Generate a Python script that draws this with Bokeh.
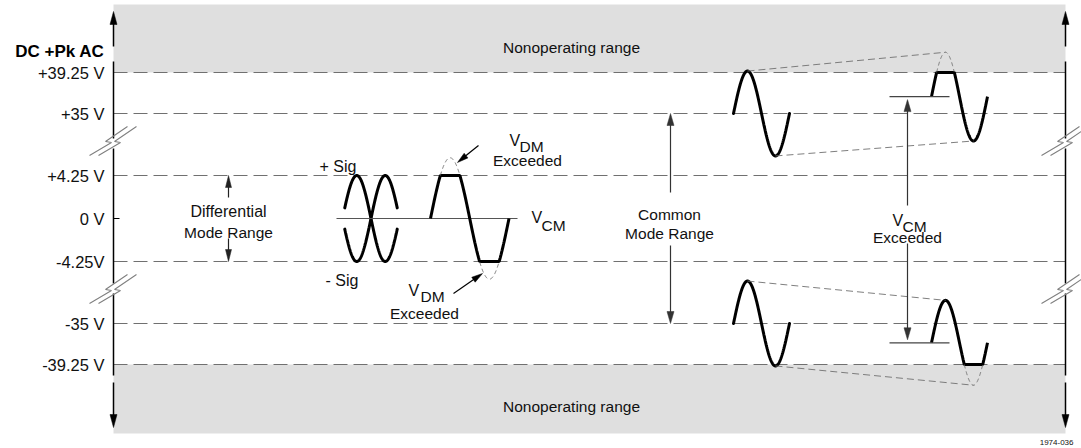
import numpy as np
from bokeh.plotting import figure
from bokeh.models import Range1d
from bokeh.core.properties import value
from bokeh.embed import file_html
from bokeh.resources import INLINE

# ---------------- data ----------------
level_volts = [39.25, 35.0, 4.25, 0.0, -4.25, -35.0, -39.25]
level_labels = ["+39.25 V", "+35 V", "+4.25 V", "0 V", "-4.25V", "-35 V", "-39.25 V"]
dashed_levels = [39.25, 35.0, 4.25, -4.25, -35.0, -39.25]
nonop_limit = 39.25          # beyond this: nonoperating range
dm_limit = 4.25              # differential mode limit

# differential-mode signals: +Sig / -Sig and an over-range signal
sig_dc = [0.0, 0.0]
sig_amp = [4.25, -4.25]      # volts (sign = polarity)
over_dm_amp = 6.0            # volts, exceeds 4.25 V

# common-mode signals: DC level (V), AC amplitude (V)
cm_ok_dc = [35.0, -35.0]
cm_ok_amp = [4.4, 4.4]
cm_over_dc = [36.75, -37.0]
cm_over_amp = [4.6, 4.4]

FONT = value("Liberation Sans")

# ---------------- display scale (with axis break) ----------------
def vpos(v):
    a = abs(v)
    if a <= 4.25:
        d = 43.0 * a / 4.25
    else:
        d = 105.0 + 41.0 * (a - 35.0) / 4.25
    return d if v >= 0 else -d

def slope(v):
    return 43.0 / 4.25 if abs(v) <= 4.25 else 41.0 / 4.25

W, H = 1081, 448
Y0 = 218                      # screen row of 0 V
def sy(s):                    # layout helper: screen row -> plot y
    return Y0 - s

p = figure(width=W, height=H, x_range=Range1d(0, W),
           y_range=Range1d(Y0 - H, Y0),
           x_axis_type=None, y_axis_type=None,
           output_backend="svg", toolbar_location=None, min_border=0)
p.grid.visible = False
p.outline_line_color = None
p.background_fill_color = "white"
p.border_fill_color = "white"

AXL, AXR = 113, 1065

# nonoperating ranges
p.quad(left=[AXL, AXL], right=[AXR, AXR],
       bottom=[vpos(nonop_limit), sy(433)], top=[sy(4), vpos(-nonop_limit)],
       fill_color="#dfdfdf", line_color=None)

# dashed level lines
for lv in dashed_levels:
    p.line([AXL, AXR], [vpos(lv), vpos(lv)], line_color="#707070",
           line_width=1.2, line_dash="14 6")

# 0 V tick
p.line([AXL, AXL + 6], [0, 0], line_color="black", line_width=1)

def arrow(x0, y0, x1, y1, color="black", lw=1.5, hl=13, hw=7):
    dx, dy = x1 - x0, y1 - y0
    L = np.hypot(dx, dy)
    ux, uy = dx / L, dy / L
    bx, by = x1 - ux * hl, y1 - uy * hl
    p.line([x0, bx + ux * 2], [y0, by + uy * 2], line_color=color, line_width=lw)
    nx, ny = -uy, ux
    p.patch([x1, bx + nx * hw / 2, bx - nx * hw / 2],
            [y1, by + ny * hw / 2, by - ny * hw / 2],
            fill_color=color, line_color=color, line_width=0.5)

# vertical axes with breaks and arrows
breaks = [140, 288]
for ax in (AXL, AXR):
    segs = [(61, breaks[0] - 2), (breaks[0] + 8, breaks[1] - 5), (breaks[1] + 5, 375)]
    for a, b in segs:
        p.line([ax, ax], [sy(a), sy(b)], line_color="black", line_width=1.5)
    arrow(ax, sy(46), ax, sy(11))
    arrow(ax, sy(382), ax, sy(427))
    zig = [(-24, 15), (-2, 2), (-8, 1), (14, -14)]
    for cy in breaks:
        for off in (0, 9):
            p.line([ax + dx + off for dx, dy in zig], [sy(cy + dy) for dx, dy in zig],
                   line_color="#808080", line_width=1.1)

# ---------- waveforms ----------
def draw_wave(x_start, period, dc, amp, clip=None, th0=0.0, th1=2 * np.pi):
    th = np.linspace(th0, th1, 240)
    xs = x_start + th / (2 * np.pi) * period
    ys = vpos(dc) + slope(dc) * amp * np.sin(th)
    if clip is None:
        p.line(xs, ys, line_color="black", line_width=3, line_cap="round")
        return
    hi, lo = vpos(clip), vpos(-clip)
    yc = np.clip(ys, lo, hi)
    p.line(xs, yc, line_color="black", line_width=3)
    ex = np.where((ys > hi) | (ys < lo), ys, np.nan)
    p.line(xs, ex, line_color="#707070", line_width=0.9, line_dash="4 3")

# +Sig / -Sig
for dc, amp in zip(sig_dc, sig_amp):
    draw_wave(342, 57, dc, amp, th0=0.25, th1=2 * np.pi - 0.25)
# VCM reference line
p.line([336, 517], [vpos(0), vpos(0)], line_color="#555555", line_width=1.2)
# over-range differential signal
draw_wave(430, 78.5, 0.0, over_dm_amp, clip=dm_limit)

# common-mode signals
cm_left_x, cm_right_x, cm_period = 733, 931, 56
for dc_ok, a_ok, dc_ov, a_ov in zip(cm_ok_dc, cm_ok_amp, cm_over_dc, cm_over_amp):
    draw_wave(cm_left_x, cm_period, dc_ok, a_ok)
    draw_wave(cm_right_x, cm_period, dc_ov, a_ov, clip=nonop_limit)
    # envelope lines through peaks and troughs
    for q in (0.25, 0.75):
        s = 1 if q == 0.25 else -1
        xa = cm_left_x + q * cm_period
        xb = cm_right_x + q * cm_period
        ya = vpos(dc_ok) + s * slope(dc_ok) * a_ok
        yb = vpos(dc_ov) + s * slope(dc_ov) * a_ov
        p.line([xa, xb], [ya, yb], line_color="#707070", line_width=0.9, line_dash="7 4")
    # DC reference of the over-range signal
    p.line([889, 949], [vpos(dc_ov), vpos(dc_ov)], line_color="#444444", line_width=1.2)

# range arrows
arrow(228, sy(197), 228, vpos(dm_limit), color="#222222", lw=1.2, hl=12, hw=6)
arrow(228, sy(238), 228, vpos(-dm_limit), color="#222222", lw=1.2, hl=12, hw=6)
arrow(670, sy(192), 670, vpos(35), color="#333333", lw=1.2, hl=12, hw=7)
arrow(670, sy(245), 670, vpos(-35), color="#333333", lw=1.2, hl=12, hw=7)
arrow(907, sy(205), 907, vpos(cm_over_dc[0]) - 3, color="#333333", lw=1.2, hl=12, hw=7)
arrow(907, sy(243), 907, vpos(cm_over_dc[1]) + 3, color="#333333", lw=1.2, hl=12, hw=7)
arrow(478, sy(145), 457, sy(162), color="black", lw=1.2, hl=11, hw=6)
arrow(453, sy(293), 482, sy(273), color="black", lw=1.2, hl=11, hw=6)

# ---------- texts ----------
def txt(x, y, t, size="15.5px", align="left", baseline="alphabetic", style="normal", color="#111111"):
    p.text(x=[x], y=[y], text=[t], text_font=FONT, text_font_size=size,
           text_align=align, text_baseline=baseline, text_font_style=style,
           text_color=color)

for lv, lab in zip(level_volts, level_labels):
    txt(104, vpos(lv), lab, size="16.5px", align="right", baseline="middle")
txt(104, sy(51), "DC +Pk AC", size="17px", align="right", style="bold", color="black")
txt(571, sy(47), "Nonoperating range", align="center")
txt(571, sy(406), "Nonoperating range", align="center")

txt(228, sy(211), "Differential", size="16px", align="center")
txt(228, sy(232), "Mode Range", align="center")
txt(669, sy(214), "Common", align="center")
txt(669, sy(233), "Mode Range", align="center")

txt(319, sy(166), "+ Sig", size="16px")
txt(325, sy(280), "- Sig", size="16px")

txt(531, sy(217), "V", size="16px")
txt(541, sy(225), "CM")
txt(509, sy(140), "V", size="16px")
txt(519, sy(146), "DM")
txt(527, sy(160), "Exceeded", align="center")
txt(408, sy(290), "V", size="16px")
txt(420, sy(296), "DM")
txt(424, sy(313), "Exceeded", align="center")
txt(892, sy(220), "V", size="16px")
txt(902, sy(226), "CM")
txt(907, sy(237), "Exceeded", align="center")

txt(1073, sy(442), "1974-036", size="8px", align="right")

open("out.html", "w").write(file_html(p, INLINE))
